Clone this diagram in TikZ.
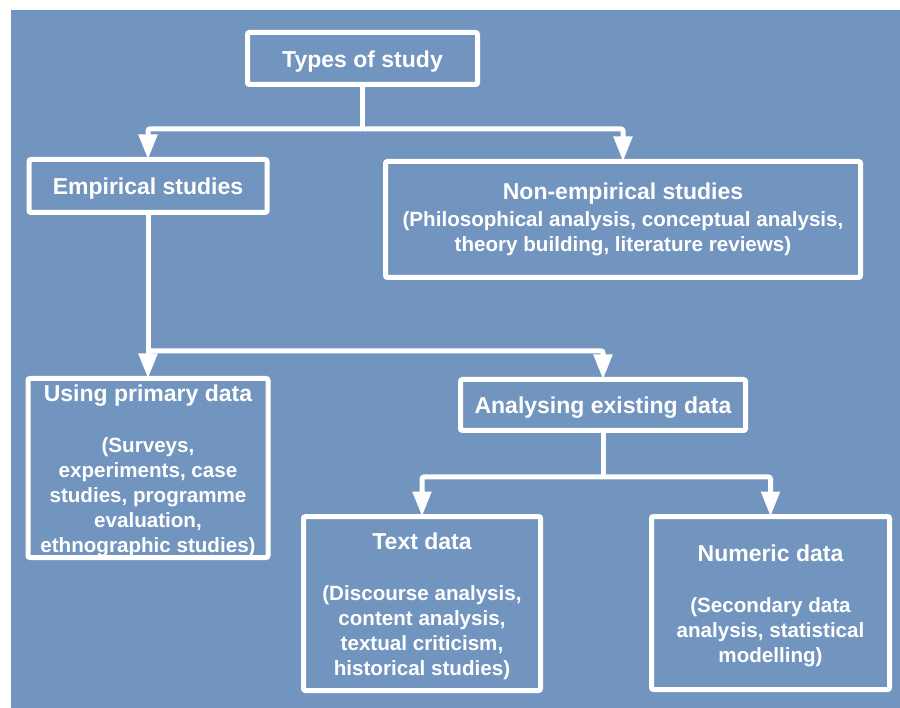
\documentclass[tikz,border=0pt]{standalone}
\usepackage{fontspec}
\setmainfont{Liberation Sans}
\usetikzlibrary{arrows.meta}
\definecolor{panel}{RGB}{114,149,191}
\tikzset{
  box/.style={draw=white, line width=5pt, rounded corners=2pt, inner sep=0pt, outer sep=0pt,
    align=center, text=white, font=\bfseries\fontsize{20.6}{25}\selectfont},
  link/.style={draw=white, line width=5pt, rounded corners=2pt},
  conn/.style={link, -{Triangle[width=18pt,length=25pt]}},
}
% box headings; the strut lowers the text block slightly
\newcommand{\headline}[1]{{\fontsize{23}{25}\selectfont\rule{0pt}{22.5pt}#1}}
\newcommand{\plainhead}[1]{{\fontsize{23}{25}\selectfont #1}}
\begin{document}
\begin{tikzpicture}[x=1pt,y=-1pt]
  \useasboundingbox (0,0) rectangle (900,708);
  \fill[white] (0,0) rectangle (900,708);
  \fill[panel] (11,10) rectangle (900,708);

  % boxes
  \node[box, minimum width=230pt, minimum height=52pt] (types) at (362.5,58.5) {\headline{Types of study}};
  \node[box, minimum width=238pt, minimum height=53pt] (emp) at (148,186) {\headline{Empirical studies}};
  \node[box, minimum width=475pt, minimum height=116pt] (nonemp) at (623,219.5)
    {\plainhead{Non-empirical studies}\\[2pt]
     (Philosophical analysis, conceptual analysis,\\
     theory building, literature reviews)};
  \node[box, minimum width=240pt, minimum height=179pt] (prim) at (148,468)
    {\headline{Using primary data}\\[26pt]
     (Surveys,\\ experiments, case\\ studies, programme\\ evaluation,\\ ethnographic studies)};
  \node[box, minimum width=285pt, minimum height=51pt] (ana) at (603,405) {\headline{Analysing existing data}};
  \node[box, minimum width=237pt, minimum height=174pt] (txt) at (422,603.5)
    {\headline{Text data}\\[26pt]
     (Discourse analysis,\\ content analysis,\\ textual criticism,\\ historical studies)};
  \node[box, minimum width=238pt, minimum height=173pt] (num) at (770.5,603)
    {\headline{Numeric data}\\[26pt]
     (Secondary data\\ analysis, statistical\\ modelling)};

  % branch points
  \coordinate (j1) at (362.5,129);
  \coordinate (j2) at (148,351);
  \coordinate (j3) at (603,477);

  % connectors
  \draw[link] (types.south) -- (j1);
  \draw[conn] (j1) -| (emp.north);
  \draw[conn] (j1) -| (nonemp.north);

  \draw[conn] (emp.south) -- (prim.north);
  \draw[conn] (j2) -| (ana.north);

  \draw[link] (ana.south) -- (j3);
  \draw[conn] (j3) -| (txt.north);
  \draw[conn] (j3) -| (num.north);
\end{tikzpicture}
\end{document}
